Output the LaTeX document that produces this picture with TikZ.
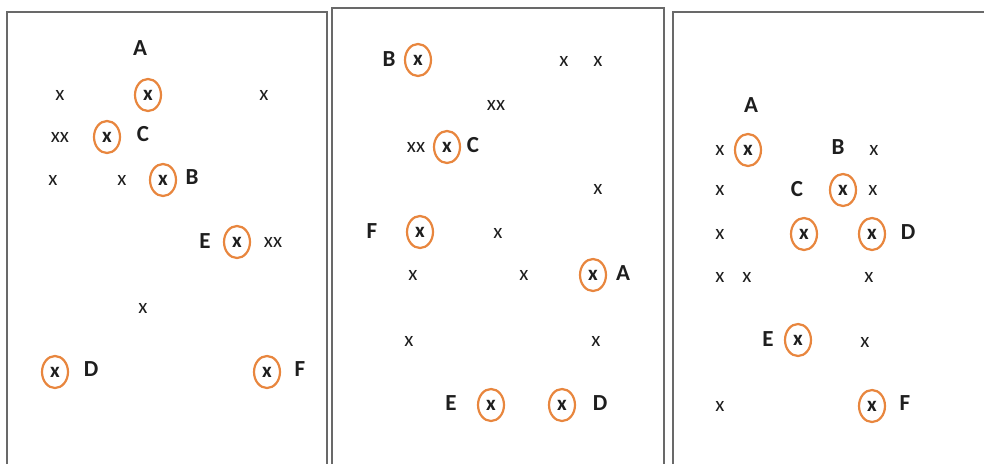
\documentclass[tikz,border=0pt]{standalone}
\usepackage{fontspec}
\setmainfont{Carlito}
\usetikzlibrary{shapes.geometric}
\definecolor{ringorange}{RGB}{232,134,62}
\definecolor{framegray}{RGB}{105,105,105}
\definecolor{ink}{RGB}{30,30,30}
\tikzset{
  pt/.style={inner sep=0pt, text=ink, font=\fontsize{21}{24}\selectfont},
  sel/.style={ellipse, draw=ringorange, line width=2.2pt, minimum width=26pt, minimum height=32pt, inner sep=0pt, text=ink, font=\fontsize{21}{24}\selectfont\bfseries},
  lbl/.style={inner sep=0pt, text=ink, font=\fontsize{23}{26}\selectfont\bfseries},
  frame/.style={draw=framegray, line width=2pt}
}
\begin{document}
\begin{tikzpicture}[x=1pt,y=-1pt]
\useasboundingbox (0,0) rectangle (984,464);
% frames
\coordinate (f1a) at (7,464); \coordinate (f1b) at (7,12); \coordinate (f1c) at (327,12); \coordinate (f1d) at (327,464);
\draw[frame] (f1a) -- (f1b) -- (f1c) -- (f1d);
\coordinate (f2a) at (332,464); \coordinate (f2b) at (332,8); \coordinate (f2c) at (664,8); \coordinate (f2d) at (664,464);
\draw[frame] (f2a) -- (f2b) -- (f2c) -- (f2d);
\coordinate (f3a) at (673,464); \coordinate (f3b) at (673,12); \coordinate (f3c) at (984,12);
\draw[frame] (f3a) -- (f3b) -- (f3c);

% ---------- panel 1 ----------
\node[lbl] (p1A) at (140,48) {A};
\node[pt] (p1x1) at (60,95) {x};
\node[sel] (p1sA) at (148,95) {x};
\node[pt] (p1x2) at (264,95) {x};
\node[pt] (p1xx1) at (60,137) {xx};
\node[sel] (p1sC) at (107,137) {x};
\node[lbl] (p1C) at (143,134) {C};
\node[pt] (p1x3) at (53,180) {x};
\node[pt] (p1x4) at (122,180) {x};
\node[sel] (p1sB) at (163,180) {x};
\node[lbl] (p1B) at (192,177) {B};
\node[lbl] (p1E) at (205,241) {E};
\node[sel] (p1sE) at (237,242) {x};
\node[pt] (p1xx2) at (273,242) {xx};
\node[pt] (p1x5) at (143,308) {x};
\node[sel] (p1sD) at (55,372) {x};
\node[lbl] (p1D) at (91,369) {D};
\node[sel] (p1sF) at (267,372) {x};
\node[lbl] (p1F) at (300,369) {F};

% ---------- panel 2 ----------
\node[lbl] (p2B) at (389,59) {B};
\node[sel] (p2sB) at (418,60) {x};
\node[pt] (p2x1) at (564,61) {x};
\node[pt] (p2x2) at (598,61) {x};
\node[pt] (p2xx1) at (496,105) {xx};
\node[pt] (p2xx2) at (416,147) {xx};
\node[sel] (p2sC) at (447,147) {x};
\node[lbl] (p2C) at (473,145) {C};
\node[pt] (p2x3) at (598,189) {x};
\node[lbl] (p2F) at (372,231) {F};
\node[sel] (p2sF) at (420,232) {x};
\node[pt] (p2x4) at (498,233) {x};
\node[pt] (p2x5) at (413,275) {x};
\node[pt] (p2x6) at (524,275) {x};
\node[sel] (p2sA) at (593,275) {x};
\node[lbl] (p2A) at (623,273) {A};
\node[pt] (p2x7) at (409,341) {x};
\node[pt] (p2x8) at (596,341) {x};
\node[lbl] (p2E) at (451,403) {E};
\node[sel] (p2sE) at (491,405) {x};
\node[sel] (p2sD) at (562,405) {x};
\node[lbl] (p2D) at (600,403) {D};

% ---------- panel 3 ----------
\node[lbl] (p3A) at (751,105) {A};
\node[pt] (p3x1) at (720,150) {x};
\node[sel] (p3sA) at (748,150) {x};
\node[lbl] (p3B) at (838,147) {B};
\node[pt] (p3x2) at (874,150) {x};
\node[pt] (p3x3) at (720,190) {x};
\node[lbl] (p3C) at (797,189) {C};
\node[sel] (p3sB) at (843,190) {x};
\node[pt] (p3x4) at (873,190) {x};
\node[pt] (p3x5) at (720,234) {x};
\node[sel] (p3sC) at (804,234) {x};
\node[sel] (p3sD) at (872,234) {x};
\node[lbl] (p3D) at (908,232) {D};
\node[pt] (p3x6) at (720,277) {x};
\node[pt] (p3x7) at (747,277) {x};
\node[pt] (p3x8) at (869,277) {x};
\node[lbl] (p3E) at (768,339) {E};
\node[sel] (p3sE) at (798,340) {x};
\node[pt] (p3x9) at (865,342) {x};
\node[pt] (p3x10) at (720,406) {x};
\node[sel] (p3sF) at (872,406) {x};
\node[lbl] (p3F) at (905,403) {F};
\end{tikzpicture}
\end{document}
